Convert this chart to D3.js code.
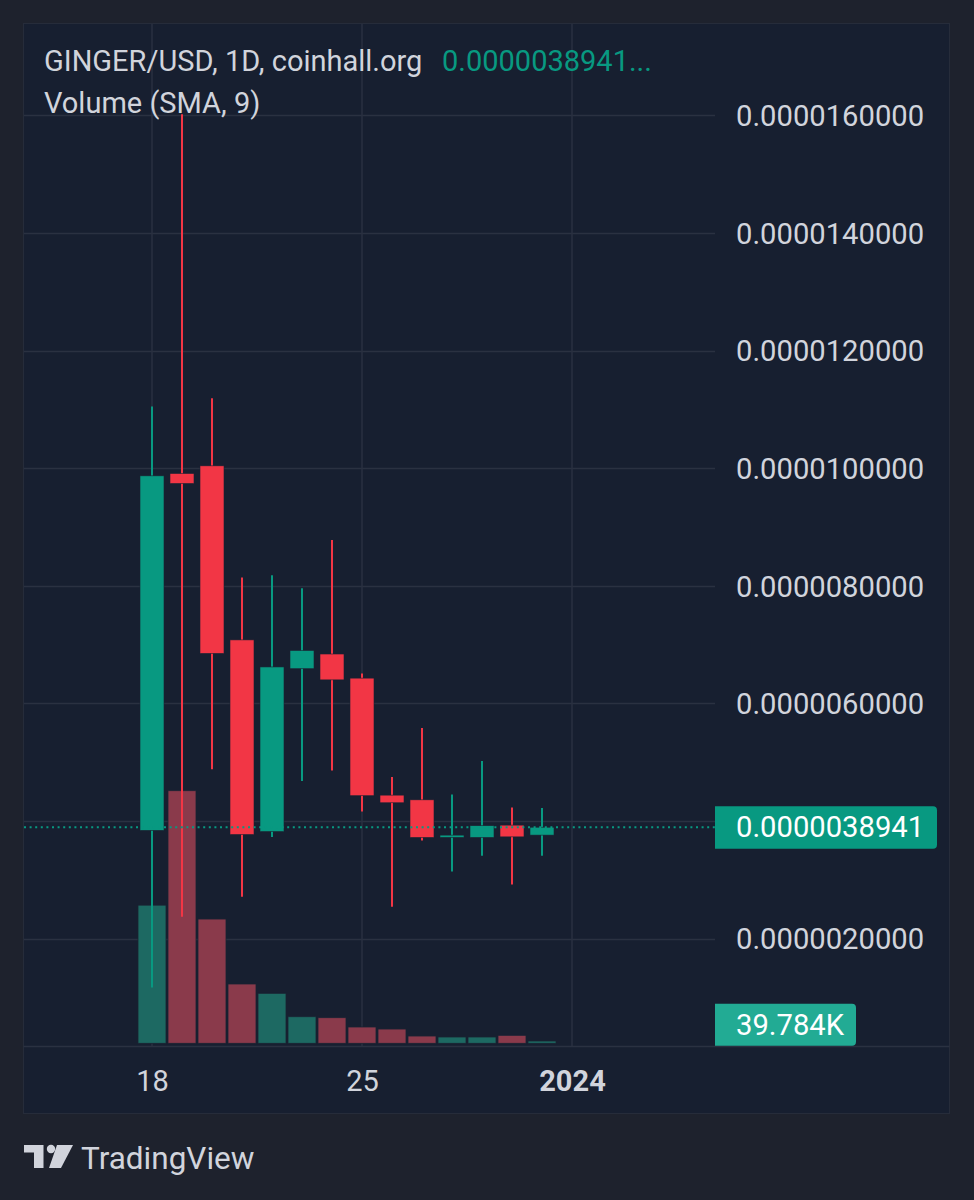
<!DOCTYPE html>
<html>
<head>
<meta charset="utf-8">
<script src="https://cdn.jsdelivr.net/npm/d3@7/dist/d3.min.js"></script>
<style>
  html, body { margin: 0; padding: 0; background: #1e222d; }
  svg { display: block; font-family: Roboto, "Noto Sans", sans-serif; }
</style>
</head>
<body>
<svg id="chart" width="974" height="1200"></svg>
<script>
// ---- data ----
const dates  = ["2023-12-18","2023-12-19","2023-12-20","2023-12-21","2023-12-22","2023-12-23","2023-12-24",
                "2023-12-25","2023-12-26","2023-12-27","2023-12-28","2023-12-29","2023-12-30","2023-12-31"];
const opens  = [3.84, 9.91, 10.04, 7.08, 3.82, 6.59, 6.84, 6.43, 4.44, 4.36, 3.72, 3.72, 3.93, 3.76].map(v => v * 1e-6);
const highs  = [11.05, 16.02, 11.19, 8.14, 8.18, 7.96, 8.78, 6.51, 4.75, 5.58, 4.45, 5.02, 4.23, 4.22].map(v => v * 1e-6);
const lows   = [1.17, 2.37, 4.88, 2.71, 3.73, 4.68, 4.86, 4.16, 2.54, 3.67, 3.14, 3.41, 2.92, 3.41].map(v => v * 1e-6);
const closes = [9.87, 9.74, 6.85, 3.77, 6.62, 6.90, 6.40, 4.43, 4.31, 3.72, 3.76, 3.92, 3.73, 3.8941].map(v => v * 1e-6);
const volumes = [2390, 4370, 2150, 1026, 865, 460, 443, 282, 247, 126, 109, 109, 138, 39.784]; // thousands
const priceTicks = [2e-6, 4e-6, 6e-6, 8e-6, 10e-6, 12e-6, 14e-6, 16e-6];
const timeTicks = ["2023-12-18", "2023-12-25", "2024-01-01"];
const timeTickLabels = ["18", "25", "2024"];
const lastPriceLabel = "0.0000038941";
const lastVolumeLabel = "39.784K";
const legendTitle = "GINGER/USD, 1D, coinhall.org";
const legendValue = "0.0000038941...";
const legendVolume = "Volume (SMA, 9)";

// ---- layout ----
const W = 974, H = 1200;
const pane = { left: 24, top: 24, right: 715, bottom: 1046 };
const panelBox = { left: 23.5, top: 23.5, right: 949.5, bottom: 1113.5 };
const GREEN = "#089981", RED = "#f23645";
const TEXT = "#d1d4dc";

const svg = d3.select("#chart");
svg.append("rect").attr("width", W).attr("height", H).attr("fill", "#1e222d");
svg.append("rect")
  .attr("x", panelBox.left).attr("y", panelBox.top)
  .attr("width", panelBox.right - panelBox.left).attr("height", panelBox.bottom - panelBox.top)
  .attr("fill", "#171f30").attr("stroke", "#262c3a").attr("stroke-width", 1);

const parse = d3.utcParse("%Y-%m-%d");
const x = d3.scaleUtc().domain([parse("2023-12-18"), parse("2024-01-01")]).range([152, 572]);
const y = d3.scaleLinear().domain([0, 16e-6]).range([1056.2, 115.4]);
const yVol = d3.scaleLinear().domain([0, d3.max(volumes)]).range([1043.3, 790.7]);

const defs = svg.append("defs");
defs.append("clipPath").attr("id", "paneClip").append("rect")
  .attr("x", pane.left).attr("y", pane.top)
  .attr("width", pane.right - pane.left).attr("height", pane.bottom - pane.top);

// grid
const grid = svg.append("g").attr("clip-path", "url(#paneClip)");
grid.selectAll("line.h").data(priceTicks).join("line")
  .attr("x1", pane.left).attr("x2", pane.right)
  .attr("y1", d => Math.round(y(d)) + 0.5).attr("y2", d => Math.round(y(d)) + 0.5)
  .attr("stroke", "#2a3141").attr("stroke-width", 1.5);
grid.selectAll("line.v").data(timeTicks).join("line")
  .attr("x1", d => x(parse(d))).attr("x2", d => x(parse(d)))
  .attr("y1", pane.top).attr("y2", pane.bottom)
  .attr("stroke", "#2a3141").attr("stroke-width", 1.5);

// time axis separator
svg.append("line").attr("x1", panelBox.left).attr("x2", panelBox.right)
  .attr("y1", 1046.5).attr("y2", 1046.5).attr("stroke", "#2a3141").attr("stroke-width", 1.5);

const plot = svg.append("g").attr("clip-path", "url(#paneClip)");

// volume bars
const idx = d3.range(dates.length);
plot.selectAll("rect.vol").data(idx).join("rect")
  .attr("x", i => x(parse(dates[i])) - 14)
  .attr("width", 28)
  .attr("y", i => yVol(volumes[i]))
  .attr("height", i => yVol(0) - yVol(volumes[i]))
  .attr("fill", i => closes[i] >= opens[i] ? "#1d6962" : "#8a3a4b")
  .attr("stroke", "#1b2333").attr("stroke-width", 0.8);

// wicks
plot.selectAll("line.wick").data(idx).join("line")
  .attr("x1", i => x(parse(dates[i]))).attr("x2", i => x(parse(dates[i])))
  .attr("y1", i => y(highs[i])).attr("y2", i => y(lows[i]))
  .attr("stroke", i => closes[i] >= opens[i] ? GREEN : RED).attr("stroke-width", 2);

// bodies
plot.selectAll("rect.body").data(idx).join("rect")
  .attr("x", i => x(parse(dates[i])) - 12)
  .attr("width", 24)
  .attr("y", i => y(Math.max(opens[i], closes[i])))
  .attr("height", i => Math.max(2, Math.abs(y(opens[i]) - y(closes[i]))))
  .attr("fill", i => closes[i] >= opens[i] ? GREEN : RED)
  .attr("stroke", "#1b2333").attr("stroke-width", 0.6);

// last price dotted line
const lastClose = closes[closes.length - 1];
svg.append("line")
  .attr("x1", pane.left).attr("x2", pane.right)
  .attr("y1", y(lastClose)).attr("y2", y(lastClose))
  .attr("stroke", GREEN).attr("stroke-width", 2).attr("stroke-dasharray", "2,3.6");

// legend
const legend = svg.append("g").style("font-size", "29px");
const t1 = legend.append("text").attr("x", 44).attr("y", 71).attr("fill", TEXT);
t1.append("tspan").text(legendTitle);
t1.append("tspan").attr("x", 442).attr("fill", GREEN).text(legendValue);
legend.append("text").attr("x", 44).attr("y", 113).attr("fill", TEXT).text(legendVolume);

// price axis (labels hidden where the last-price tag covers them, as in the reference)
const fmt = d => d.toFixed(10);
const visibleTicks = priceTicks.filter(t => Math.abs(y(t) - y(lastClose)) > 30);
const yAxis = svg.append("g").attr("transform", `translate(${pane.right},0)`)
  .call(d3.axisRight(y).tickValues(visibleTicks).tickFormat(fmt).tickSize(0).tickPadding(21));
yAxis.select(".domain").remove();
yAxis.selectAll("text").attr("fill", TEXT).style("font-size", "29.2px")
  .style("font-family", "Roboto, sans-serif").attr("dy", "0.35em");

// last price label
function tagPath(x0, y0, w, h, r) {
  return `M${x0},${y0} H${x0 + w - r} Q${x0 + w},${y0} ${x0 + w},${y0 + r} V${y0 + h - r} Q${x0 + w},${y0 + h} ${x0 + w - r},${y0 + h} H${x0} Z`;
}
const pyc = y(lastClose);
svg.append("path").attr("d", tagPath(pane.right, pyc - 21, 222, 42.5, 4)).attr("fill", GREEN);
svg.append("text").attr("x", 736).attr("y", pyc).attr("dy", "0.35em")
  .attr("fill", "#ffffff").style("font-size", "29.2px").text(lastPriceLabel);

// last volume label
svg.append("path").attr("d", tagPath(pane.right, 1003.7, 141, 42, 4)).attr("fill", "#22ab94");
svg.append("text").attr("x", 736).attr("y", 1025).attr("dy", "0.35em")
  .attr("fill", "#ffffff").style("font-size", "29.2px").text(lastVolumeLabel);

// time axis
const xAxis = svg.append("g").attr("transform", "translate(0,1046)")
  .call(d3.axisBottom(x).tickValues(timeTicks.map(parse))
    .tickFormat((d, i) => timeTickLabels[i]).tickSize(0).tickPadding(24));
xAxis.select(".domain").remove();
xAxis.selectAll("text").attr("fill", TEXT).style("font-size", "29px")
  .style("font-family", "Roboto, sans-serif")
  .style("font-weight", (d, i) => i === 2 ? "bold" : "normal");

// TradingView logo
const logo = svg.append("g").attr("fill", TEXT);
logo.append("path").attr("d", "M24,1145 H43.5 V1168 H34 V1152.5 H24 Z");
logo.append("circle").attr("cx", 51).attr("cy", 1149).attr("r", 4.2);
logo.append("path").attr("d", "M57,1145 H73 L61,1168 H49 Z");
svg.append("text").attr("x", 81).attr("y", 1169).attr("fill", TEXT)
  .style("font-size", "31.5px").text("TradingView");
</script>
</body>
</html>
